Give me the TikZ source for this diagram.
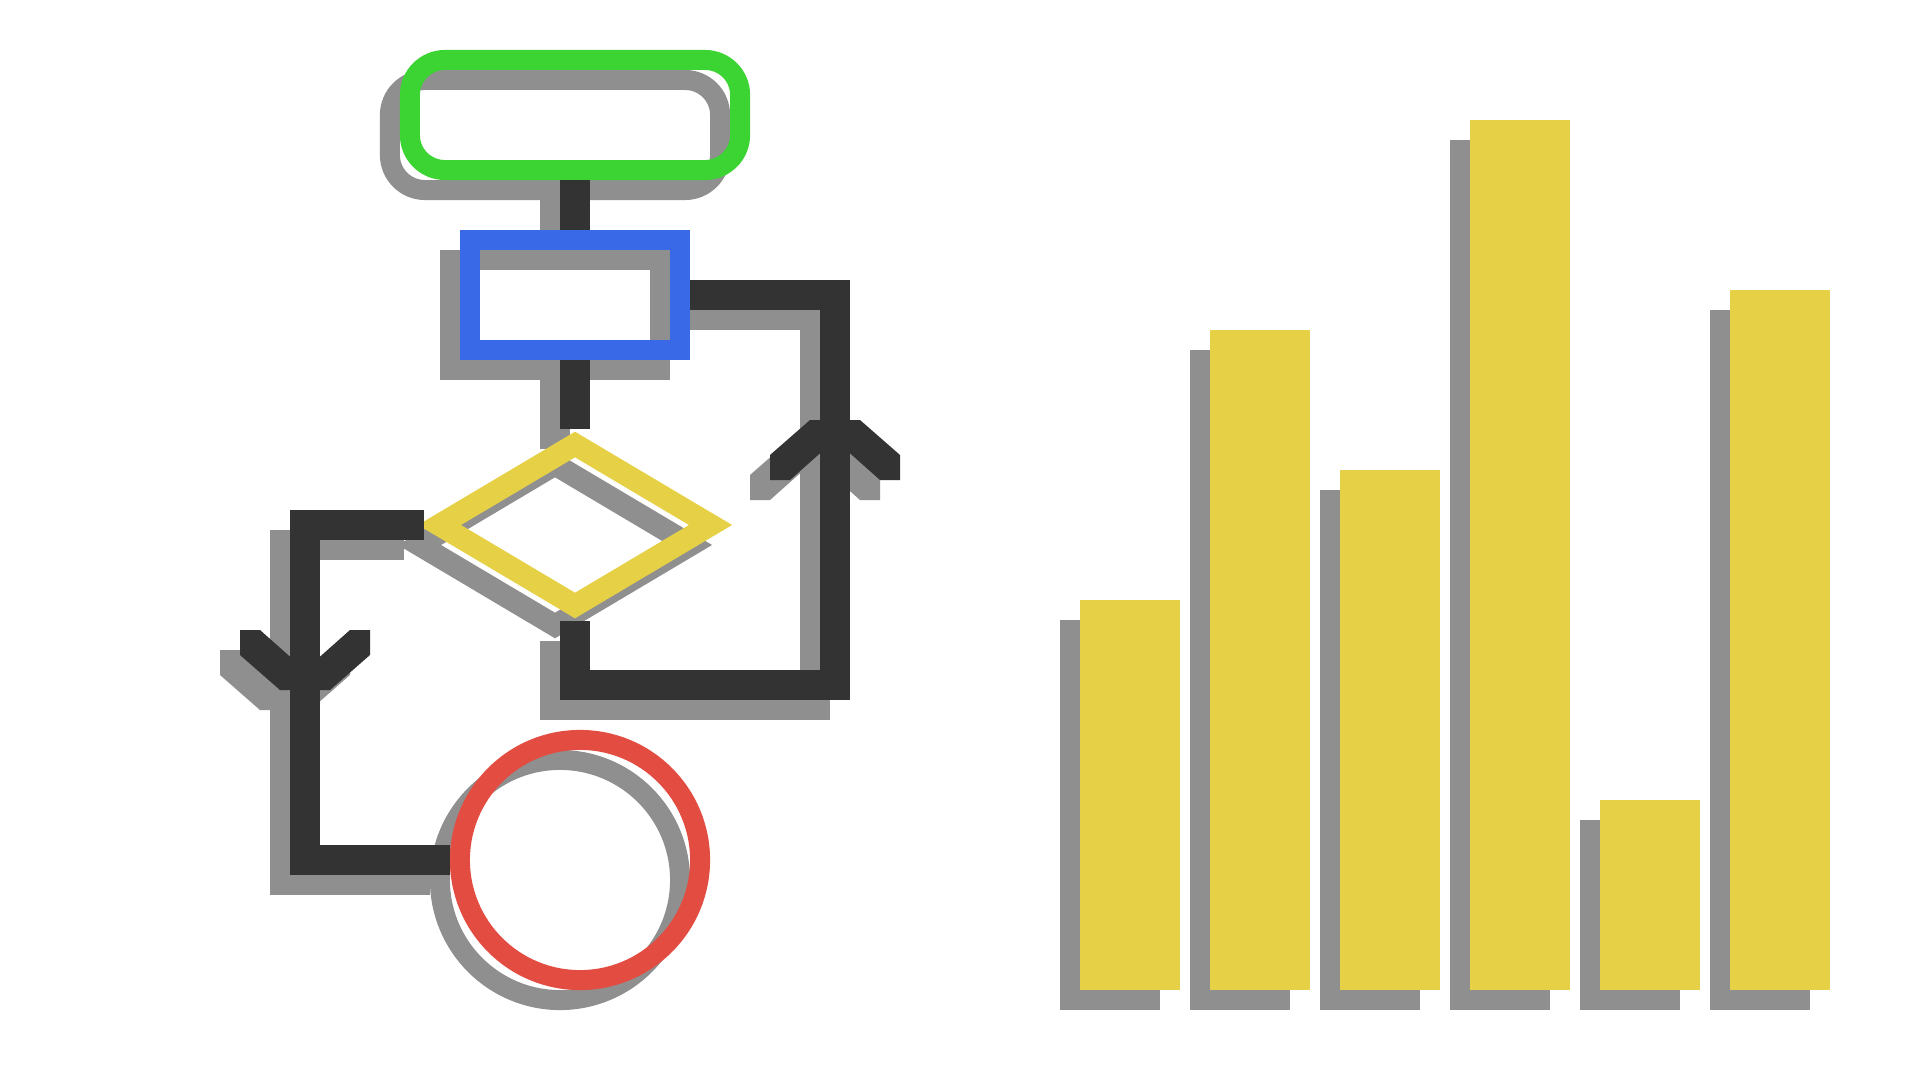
\documentclass[tikz,border=0pt]{standalone}
\usetikzlibrary{shapes.geometric}
\definecolor{cgreen}{HTML}{3CD433}
\definecolor{cblue}{HTML}{3A69E8}
\definecolor{cyellow}{HTML}{E6D146}
\definecolor{cred}{HTML}{E34C40}
\definecolor{cdark}{HTML}{333333}
\definecolor{cshadow}{HTML}{8F8F8F}
\newcommand\flowchart[1]{%
  \node[term] (#1t) at (575,115) {};
  \node[proc] (#1p) at (575,295) {};
  \node[dec]  (#1d) at (575,525) {};
  \node[stopc] (#1s) at (580,860) {};
  \coordinate (#1r) at (835,685);
  \coordinate (#1l) at (305,860);
  \coordinate (#1au) at (835,420);
  \coordinate (#1ad) at (305,690);
  \draw[conn] (#1t) -- (#1p);
  \draw[conn] (#1p) -- (#1d);
  \draw[conn] (#1d.south) |- (#1r) |- (#1p.east);
  \draw[conn] (#1d.west) -| (#1l) -- (#1s.west);
  \pic at (#1au) {chev};
  \pic[yscale=-1] at (#1ad) {chev};
}
\begin{document}
\begin{tikzpicture}[x=0.01cm,y=-0.01cm,
  term/.style={draw=cgreen,line width=0.2cm,rounded corners=0.35cm,minimum width=3.3cm,minimum height=1.1cm,inner sep=0pt},
  proc/.style={draw=cblue,line width=0.2cm,minimum width=2.1cm,minimum height=1.1cm,inner sep=0pt},
  dec/.style={draw=cyellow,line width=0.22cm,diamond,minimum width=2.8cm,minimum height=1.7cm,inner sep=0pt,line join=miter},
  stopc/.style={draw=cred,line width=0.2cm,circle,minimum size=2.4cm,inner sep=0pt},
  conn/.style={draw=cdark,line width=0.3cm,line join=miter,line cap=butt},
  pics/chev/.style={code={\fill[cdark] (-65,60) -- (-65,35) -- (-25,0) -- (25,0) -- (65,35) -- (65,60) -- (45,60) -- (0,20) -- (-45,60) -- cycle;}},
  barc/.style={fill=cyellow},
  bars/.style={fill=cshadow}]
\useasboundingbox (0,0) rectangle (1930,1070);
\fill[white] (0,0) rectangle (1930,1070);
% shadow of flowchart
\begin{scope}[shift={(-20,20)}]
  \colorlet{cgreen}{cshadow}\colorlet{cblue}{cshadow}\colorlet{cyellow}{cshadow}
  \colorlet{cred}{cshadow}\colorlet{cdark}{cshadow}
  \flowchart{s}
\end{scope}
\flowchart{}
% bar chart
\foreach \bx/\bt in {1080/600,1210/330,1340/470,1470/120,1600/800,1730/290}{
  \fill[bars] (\bx-20,\bt+20) rectangle (\bx+80,1010);
  \fill[barc] (\bx,\bt) rectangle (\bx+100,990);
}
\end{tikzpicture}
\end{document}
